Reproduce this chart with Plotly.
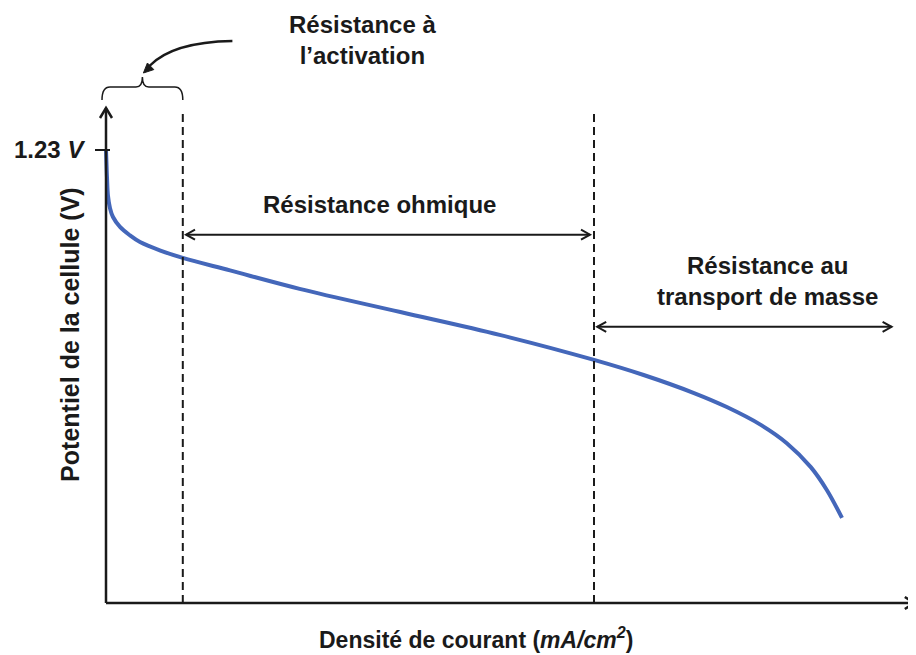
import plotly.graph_objects as go

# ---------------- data ----------------
current_density = [0, 0.5, 1.25, 2.5, 5, 8.75, 17.5, 30, 42.5, 68, 96, 155, 242, 368, 492,
                   610, 672, 735, 776, 819, 851, 881, 901, 920]
cell_potential = [1.230, 1.200, 1.155, 1.105, 1.072, 1.048, 1.021, 0.998, 0.980, 0.957, 0.937,
                  0.903, 0.853, 0.790, 0.728, 0.660, 0.619, 0.570, 0.532, 0.483, 0.434, 0.369,
                  0.307, 0.231]
region_bounds = [0, 96, 610]          # activation | ohmic | mass transport
E_rev = 1.23
E_rev_label = "1.23 <i>V</i>"
region_labels = ["Résistance à<br>l’activation", "Résistance ohmique",
                 "Résistance au<br>transport de masse"]
x_title = "Densité de courant (<i>mA/cm<sup>2</sup></i>)"
y_title = "Potentiel de la cellule (V)"

# ---------------- layout geometry ----------------
# the page body adds an 8px margin, so the figure is 8px smaller and shifted
FIG_W, FIG_H = 908, 647
ORIGIN_PX = (98, 595)
X_PER_PX = 1.25
PX_PER_Y = 368.3
X_END = 1011
Y_END = 1.344
x_range = [-ORIGIN_PX[0] * X_PER_PX, (FIG_W - ORIGIN_PX[0]) * X_PER_PX]
y_range = [-(FIG_H - ORIGIN_PX[1]) / PX_PER_Y, ORIGIN_PX[1] / PX_PER_Y]

FONT = "Liberation Sans, Arial, sans-serif"
BLACK = "#1a1a1a"
BLUE = "#4467BA"

fig = go.Figure()
fig.add_trace(go.Scatter(x=current_density, y=cell_potential, mode="lines",
                         line=dict(color=BLUE, width=4, shape="spline", smoothing=1.0),
                         hoverinfo="skip", showlegend=False))

shapes = []
# axes
shapes.append(dict(type="line", x0=0, y0=0, x1=0, y1=Y_END, line=dict(color=BLACK, width=2.5)))
shapes.append(dict(type="line", x0=0, y0=0, x1=X_END, y1=0, line=dict(color=BLACK, width=2.5)))


def chevron(xa, ya, path, width=2.5):
    return dict(type="path", xsizemode="pixel", ysizemode="pixel", xanchor=xa, yanchor=ya,
                path=path, line=dict(color=BLACK, width=width))


shapes.append(chevron(0, Y_END, "M -6,-10 L 0,0 L 6,-10"))
shapes.append(chevron(X_END, 0, "M -10,6 L 0,0 L -10,-6"))
# tick at 1.23
shapes.append(dict(type="path", xsizemode="pixel", xanchor=0, path="M -11,%f L 4,%f" % (E_rev, E_rev),
                   line=dict(color=BLACK, width=2)))
# dashed region boundaries
for b in region_bounds[1:]:
    shapes.append(dict(type="line", x0=b, x1=b, y0=0, y1=Y_END - 0.008,
                       line=dict(color=BLACK, width=2, dash="8px,5px")))


# double arrows
def double_arrow(x0, x1, y):
    out = [dict(type="line", x0=x0, x1=x1, y0=y, y1=y, line=dict(color=BLACK, width=2))]
    out.append(chevron(x0, y, "M 9,5 L 0,0 L 9,-5", 2))
    out.append(chevron(x1, y, "M -9,5 L 0,0 L -9,-5", 2))
    return out


shapes += double_arrow(region_bounds[1] + 4, region_bounds[2] - 5, 1.0)
shapes += double_arrow(region_bounds[2] + 4, 982, 0.75)

# curly brace over the activation region (x in data, y in pixels above axis top)
a = region_bounds[0] - 5
b = region_bounds[1]
m = (a + b) / 2
brace = ("M %f,8 Q %f,21 %f,21 L %f,21 Q %f,21 %f,31 Q %f,21 %f,21 L %f,21 Q %f,21 %f,8"
         % (a, a, a + 10, m - 8, m, m, m, m + 8, b - 10, b, b))
shapes.append(dict(type="path", ysizemode="pixel", yanchor=Y_END, path=brace,
                   line=dict(color=BLACK, width=1.5)))
# curved pointer arrow
shapes.append(dict(type="path", xsizemode="pixel", ysizemode="pixel", xanchor=m, yanchor=Y_END,
                   path="M 90,67 Q 30,66 7,42", line=dict(color=BLACK, width=2.5)))
shapes.append(dict(type="path", xsizemode="pixel", ysizemode="pixel", xanchor=m, yanchor=Y_END,
                   path="M 1,35 L 11.4,38.4 L 5,45 Z", fillcolor=BLACK,
                   line=dict(color=BLACK, width=1)))

annotations = []


def txt(x, y, text, size=24, **kw):
    d = dict(x=x, y=y, text=text, showarrow=False,
             font=dict(family=FONT, size=size, color=BLACK, weight="bold"))
    d.update(kw)
    annotations.append(d)


txt(321, 1.529, region_labels[0])
txt(342, 1.083, region_labels[1])
txt(827, 0.874, region_labels[2])
txt(463, -0.094, x_title, size=23)
txt(-45, 0.728, y_title, size=25, textangle=-90)
txt(-24, E_rev, E_rev_label, size=24, xanchor="right")

fig.update_layout(
    width=FIG_W, height=FIG_H,
    margin=dict(l=0, r=0, t=0, b=0),
    paper_bgcolor="white", plot_bgcolor="white",
    xaxis=dict(range=x_range, visible=False, fixedrange=True),
    yaxis=dict(range=y_range, visible=False, fixedrange=True),
    shapes=shapes, annotations=annotations,
    showlegend=False,
)
fig.write_html("out.html")
